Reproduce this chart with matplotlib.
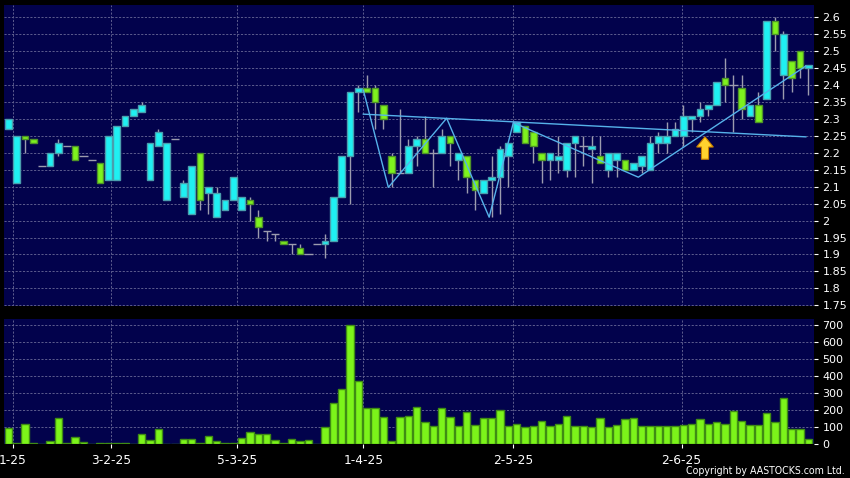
import matplotlib
matplotlib.use("Agg")
import matplotlib.pyplot as plt
from matplotlib.patches import FancyArrow
import numpy as np

# daily OHLC (one entry per trading day)
opens = [2.27, 2.11, 2.25, 2.24, 2.16, 2.16, 2.20, 2.22, 2.22, 2.19,
         2.18, 2.17, 2.12, 2.12, 2.28, 2.31, 2.32, 2.12, 2.22, 2.06,
         2.24, 2.07, 2.02, 2.20, 2.08, 2.01, 2.03, 2.06, 2.03, 2.06,
         2.01, 1.97, 1.96, 1.94, 1.93, 1.92, 1.90, 1.93, 1.93, 1.94,
         2.07, 2.19, 2.38, 2.39, 2.39, 2.34, 2.19, 2.14, 2.14, 2.22,
         2.24, 2.20, 2.20, 2.25, 2.18, 2.19, 2.12, 2.08, 2.12, 2.13,
         2.19, 2.26, 2.28, 2.26, 2.20, 2.18, 2.18, 2.15, 2.23, 2.22,
         2.21, 2.19, 2.15, 2.18, 2.18, 2.15, 2.16, 2.15, 2.23, 2.23,
         2.25, 2.25, 2.30, 2.31, 2.33, 2.34, 2.42, 2.40, 2.39, 2.31,
         2.34, 2.36, 2.59, 2.43, 2.47, 2.50, 2.45]
highs = [2.30, 2.25, 2.25, 2.24, 2.16, 2.20, 2.24, 2.22, 2.22, 2.19,
         2.18, 2.17, 2.25, 2.28, 2.31, 2.33, 2.35, 2.23, 2.27, 2.23,
         2.24, 2.12, 2.16, 2.20, 2.10, 2.10, 2.06, 2.13, 2.07, 2.07,
         2.03, 1.97, 1.96, 1.94, 1.93, 1.93, 1.90, 1.93, 1.96, 2.07,
         2.19, 2.38, 2.40, 2.43, 2.40, 2.34, 2.20, 2.33, 2.24, 2.25,
         2.31, 2.21, 2.27, 2.25, 2.20, 2.19, 2.12, 2.12, 2.19, 2.22,
         2.23, 2.29, 2.28, 2.26, 2.20, 2.20, 2.25, 2.23, 2.25, 2.25,
         2.25, 2.25, 2.20, 2.20, 2.18, 2.17, 2.19, 2.25, 2.26, 2.29,
         2.29, 2.34, 2.31, 2.35, 2.34, 2.41, 2.48, 2.43, 2.43, 2.34,
         2.38, 2.59, 2.60, 2.56, 2.47, 2.50, 2.46]
lows = [2.27, 2.11, 2.20, 2.23, 2.16, 2.16, 2.19, 2.22, 2.18, 2.19,
        2.18, 2.11, 2.12, 2.12, 2.28, 2.31, 2.32, 2.12, 2.22, 2.06,
        2.24, 2.07, 2.02, 2.03, 2.02, 2.01, 2.03, 2.06, 2.03, 2.00,
        1.95, 1.94, 1.94, 1.93, 1.90, 1.90, 1.90, 1.93, 1.89, 1.94,
        2.07, 2.05, 2.32, 2.38, 2.27, 2.27, 2.10, 2.14, 2.14, 2.16,
        2.20, 2.10, 2.20, 2.16, 2.12, 2.08, 2.03, 2.08, 2.01, 2.02,
        2.10, 2.26, 2.23, 2.17, 2.11, 2.12, 2.14, 2.13, 2.13, 2.16,
        2.11, 2.17, 2.13, 2.13, 2.15, 2.15, 2.14, 2.15, 2.20, 2.20,
        2.25, 2.22, 2.26, 2.29, 2.31, 2.34, 2.35, 2.26, 2.30, 2.31,
        2.29, 2.36, 2.50, 2.36, 2.38, 2.42, 2.37]
closes = [2.30, 2.25, 2.24, 2.23, 2.16, 2.20, 2.23, 2.22, 2.18, 2.19,
          2.18, 2.11, 2.25, 2.28, 2.31, 2.33, 2.34, 2.23, 2.26, 2.23,
          2.24, 2.11, 2.16, 2.06, 2.10, 2.08, 2.06, 2.13, 2.07, 2.05,
          1.98, 1.97, 1.96, 1.93, 1.93, 1.90, 1.90, 1.93, 1.94, 2.07,
          2.19, 2.38, 2.39, 2.38, 2.35, 2.30, 2.14, 2.14, 2.22, 2.24,
          2.20, 2.20, 2.25, 2.23, 2.20, 2.13, 2.09, 2.12, 2.13, 2.21,
          2.23, 2.29, 2.23, 2.22, 2.18, 2.20, 2.19, 2.23, 2.25, 2.22,
          2.22, 2.17, 2.20, 2.20, 2.15, 2.17, 2.19, 2.23, 2.25, 2.25,
          2.27, 2.31, 2.31, 2.33, 2.34, 2.41, 2.40, 2.40, 2.33, 2.34,
          2.29, 2.59, 2.55, 2.55, 2.42, 2.45, 2.46]
volumes = [95, 4, 115, 6, 0, 20, 152, 6, 43, 14,
           1, 6, 4, 5, 5, 2, 61, 24, 91, 1,
           1, 28, 28, 6, 45, 20, 8, 4, 38, 69,
           61, 57, 24, 8, 28, 18, 22, 1, 99, 243,
           322, 700, 370, 211, 213, 162, 20, 160, 168, 221,
           132, 105, 210, 158, 105, 188, 113, 155, 155, 198,
           108, 120, 103, 108, 133, 108, 120, 167, 108, 108,
           100, 152, 100, 110, 148, 152, 108, 108, 105, 105,
           105, 110, 117, 145, 120, 130, 117, 195, 133, 110,
           110, 180, 130, 272, 88, 88, 28]

tick_pos = [0.5, 12.3, 27.4, 42.6, 60.6, 80.8]
tick_labels = ["1-25", "3-2-25", "5-3-25", "1-4-25", "2-5-25", "2-6-25"]

# pattern lines drawn on the chart
neck_x = [42.6, 95.7]
neck_y = [2.314, 2.247]
zig_x = [42.6, 45.6, 52.6, 57.7, 60.6, 75.6, 95.7]
zig_y = [2.385, 2.098, 2.302, 2.010, 2.289, 2.128, 2.456]
arrow_x, arrow_y0, arrow_y1 = 83.6, 2.181, 2.247

BG = "#02024c"
GRID = "#5c5c8e"
UP, UP_EDGE = "#1ff0f2", "#4a9fae"
DN, DN_EDGE = "#7ef21e", "#4f9428"
WICK = "#9c9cae"
LINE = "#56b2ea"

o = np.array(opens); h = np.array(highs); l = np.array(lows); c = np.array(closes)
x = np.arange(len(o))

fig = plt.figure(figsize=(8.5, 4.78), dpi=100, facecolor="black")
ax1 = fig.add_axes([4/850, 1-306/478, 810/850, 301/478], facecolor=BG)
ax2 = fig.add_axes([4/850, 1-444/478, 810/850, 125/478], facecolor=BG)

for ax in (ax1, ax2):
    ax.set_xlim(-0.52, 96.68)
    for s in ax.spines.values():
        s.set_visible(False)
    ax.grid(True, axis="y", color=GRID, linestyle=(0, (2.2, 1.6)), linewidth=0.7)
    for tp in tick_pos:
        ax.axvline(tp, color=GRID, linestyle=(0, (2.2, 1.6)), linewidth=0.7, zorder=0.5)
    ax.set_axisbelow(True)
    ax.yaxis.tick_right()
    ax.tick_params(axis="y", colors="white", labelsize=8, length=3, width=0.8, pad=3)

# candles
ax1.vlines(x, l, h, color=WICK, linewidth=1, zorder=2)
flat = o == c
ax1.hlines(o[flat], x[flat] - 0.5, x[flat] + 0.5, color=WICK, linewidth=1, zorder=2)
up = (c > o)
dn = (c < o)
ax1.bar(x[up], (c - o)[up], bottom=o[up], width=0.78, color=UP, edgecolor=UP_EDGE,
        linewidth=1, zorder=3)
ax1.bar(x[dn], (o - c)[dn], bottom=c[dn], width=0.78, color=DN, edgecolor=DN_EDGE,
        linewidth=1, zorder=3)

ax1.plot(neck_x, neck_y, color=LINE, linewidth=1, zorder=4)
ax1.plot(zig_x, zig_y, color=LINE, linewidth=1, zorder=4)
ax1.add_patch(FancyArrow(arrow_x, arrow_y0, 0, arrow_y1 - arrow_y0, width=0.85,
                         head_width=2.0, head_length=0.03, length_includes_head=True,
                         facecolor="#ffd22e", edgecolor="#c97f00", linewidth=0.8, zorder=5))

ax1.set_ylim(1.748, 2.636)
yt = np.round(np.arange(1.75, 2.601, 0.05), 2)
ax1.set_yticks(yt)
ax1.set_yticklabels(["%g" % v for v in yt])
ax1.set_xticks([])

# volume
ax2.bar(x, volumes, width=0.85, color="#7cf41a", edgecolor="#3f8c14", linewidth=1, zorder=3)
ax2.set_ylim(0, 737)
ax2.set_yticks(range(0, 701, 100))
ax2.set_xticks(tick_pos)
ax2.set_xticklabels(tick_labels)
ax2.tick_params(axis="x", colors="white", labelsize=8.8, length=3, width=0.8, pad=4)

fig.text(845/850, 1-471/478, "Copyright by AASTOCKS.com Ltd.", color="white",
         fontsize=7.6, fontstretch="condensed", ha="right", va="center")

fig.savefig("out.png", dpi=100, facecolor="black")
